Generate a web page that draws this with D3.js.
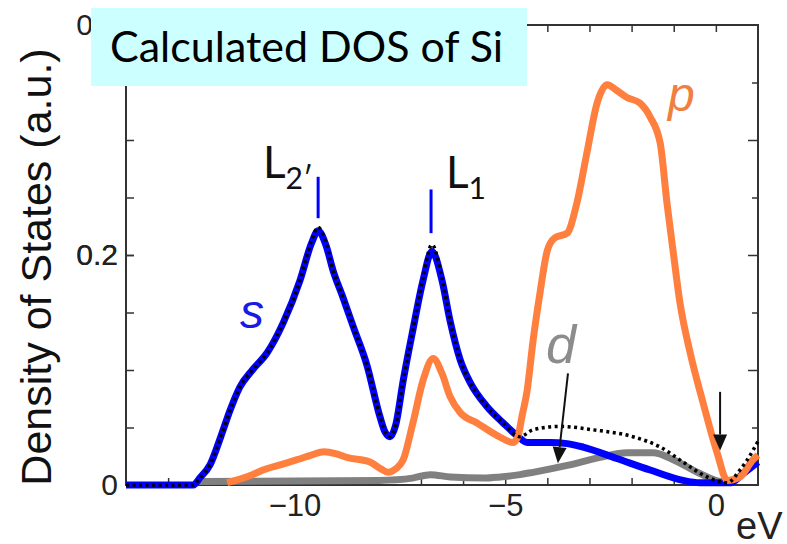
<!DOCTYPE html>
<html>
<head>
<meta charset="utf-8">
<script src="https://cdn.jsdelivr.net/npm/d3@7"></script>
<style>
  body { margin: 0; background: #fff; }
  svg { display: block; }
</style>
</head>
<body>
<svg id="chart" width="787" height="544"></svg>
<script>
"use strict";
// s-projected DOS (blue)
const sEnergy = [-14, -12.4, -12.25, -12.0, -11.75, -11.53, -11.3, -11.0, -10.65, -10.27, -9.87, -9.6, -9.44, -9.25, -9.09, -8.85, -8.6, -8.28, -7.97, -7.85, -7.73, -7.6, -7.42, -7.19, -6.95, -6.74, -6.5, -6.31, -6.07, -5.83, -5.43, -5.05, -4.72, -4.48, -3.94, -3.53, -3.15, -2.35, -1.56, -0.78, -0.38, 0.34, 0.65, 1.0];
const sDos = [0, 0, 0.006, 0.018, 0.042, 0.065, 0.085, 0.1, 0.115, 0.141, 0.178, 0.21, 0.221, 0.208, 0.187, 0.163, 0.137, 0.104, 0.059, 0.046, 0.042, 0.052, 0.091, 0.135, 0.178, 0.203, 0.178, 0.143, 0.109, 0.089, 0.068, 0.054, 0.043, 0.037, 0.037, 0.036, 0.033, 0.023, 0.013, 0.004, 0.002, 0.002, 0.01, 0.02];
// total DOS (black dotted)
const totEnergy = [-14, -12.4, -12.25, -12.0, -11.75, -11.53, -11.3, -11.0, -10.65, -10.27, -9.87, -9.6, -9.44, -9.25, -9.09, -8.85, -8.6, -8.28, -7.97, -7.85, -7.73, -7.6, -7.42, -7.19, -6.95, -6.74, -6.5, -6.31, -6.07, -5.83, -5.43, -5.05, -4.65, -4.34, -3.7, -2.92, -1.97, -1.32, -0.78, -0.21, 0.27, 0.57, 0.88, 1.0];
const totDos = [0, 0, 0.006, 0.018, 0.042, 0.065, 0.085, 0.1, 0.115, 0.141, 0.178, 0.212, 0.224, 0.21, 0.187, 0.163, 0.137, 0.104, 0.059, 0.046, 0.042, 0.052, 0.091, 0.135, 0.18, 0.209, 0.18, 0.143, 0.109, 0.089, 0.068, 0.054, 0.042, 0.048, 0.051, 0.048, 0.042, 0.033, 0.02, 0.007, 0.002, 0.013, 0.03, 0.038];
// p-projected DOS (orange)
const pEnergy = [-11.6, -11.0, -10.75, -10.3, -9.94, -9.6, -9.3, -9.0, -8.76, -8.21, -7.95, -7.78, -7.6, -7.42, -7.19, -6.95, -6.71, -6.5, -6.31, -6.07, -5.67, -5.19, -4.81, -4.7, -4.6, -4.48, -4.34, -4.17, -4.0, -3.82, -3.53, -3.3, -3.06, -2.82, -2.58, -2.35, -2.11, -1.8, -1.56, -1.32, -1.16, -1.01, -0.85, -0.61, -0.3, 0.03, 0.27, 0.57, 0.88, 1.0];
const pDos = [0.002, 0.009, 0.013, 0.018, 0.022, 0.026, 0.029, 0.027, 0.024, 0.02, 0.014, 0.011, 0.014, 0.022, 0.054, 0.091, 0.11, 0.097, 0.077, 0.063, 0.054, 0.043, 0.037, 0.042, 0.06, 0.082, 0.125, 0.168, 0.204, 0.215, 0.219, 0.245, 0.289, 0.332, 0.348, 0.343, 0.337, 0.332, 0.32, 0.297, 0.245, 0.202, 0.158, 0.115, 0.071, 0.028, 0.004, 0.007, 0.022, 0.026];
// d-projected DOS (gray)
const dEnergy = [-12.3, -8.0, -7.2, -6.78, -6.3, -5.5, -5.12, -4.65, -4.34, -3.53, -2.75, -2.11, -1.49, -1.01, -0.38, 0.1, 0.4];
const dDos = [0.003, 0.004, 0.006, 0.009, 0.007, 0.006, 0.007, 0.009, 0.011, 0.017, 0.024, 0.028, 0.028, 0.022, 0.01, 0.003, 0.002];

// axis ticks
const xTicks = d3.range(-13, 1, 1);
const xLabels = [-10, -5, 0];
const yTicks = [0.05, 0.1, 0.15, 0.2, 0.25, 0.3, 0.35];
const yLabels = [0, 0.2, 0.4];

// L-point markers
const markerNames = ["L", "L"];
const markerSubs = ["2\u2032", "1"];
const markerE = [-9.44, -6.76];
const markerTop = [0.268, 0.257];
const markerBottom = [0.232, 0.219];

const svg = d3.select("#chart");
const margin = {left: 126, right: 29, top: 25, bottom: 59};
const width = 787 - margin.left - margin.right;
const height = 544 - margin.top - margin.bottom;

const x = d3.scaleLinear().domain([-14, 1]).range([margin.left, margin.left + width]);
const y = d3.scaleLinear().domain([0, 0.4]).range([margin.top + height, margin.top]);

const axisColor = "#333";
const tickFont = "Liberation Sans, Arial, sans-serif";

// frame
svg.append("rect")
  .attr("x", x(-14)).attr("y", y(0.4))
  .attr("width", x(1) - x(-14)).attr("height", y(0) - y(0.4))
  .attr("fill", "none").attr("stroke", axisColor).attr("stroke-width", 2);

// bottom axis, inward ticks
const xAxis = svg.append("g")
  .attr("transform", `translate(0,${y(0)})`)
  .call(d3.axisBottom(x).tickValues(xTicks).tickSize(-7).tickPadding(9)
    .tickFormat(d => xLabels.includes(d) ? d3.format("d")(d) : ""));
xAxis.select(".domain").remove();
xAxis.selectAll(".tick line").attr("stroke", axisColor).attr("stroke-width", 1.5);
xAxis.selectAll(".tick text").attr("font-family", tickFont).attr("font-size", 31).attr("fill", "#222");

// top axis
const xTop = svg.append("g")
  .attr("transform", `translate(0,${y(0.4)})`)
  .call(d3.axisTop(x).tickValues(xTicks).tickSize(-7).tickFormat(""));
xTop.select(".domain").remove();
xTop.selectAll(".tick line").attr("stroke", axisColor).attr("stroke-width", 1.5);

// left axis
const yAxis = svg.append("g")
  .attr("transform", `translate(${x(-14)},0)`)
  .call(d3.axisLeft(y).tickValues(yTicks.concat(yLabels)).tickSize(-8).tickPadding(8)
    .tickFormat(d => yLabels.includes(d) ? String(d) : ""));
yAxis.select(".domain").remove();
yAxis.selectAll(".tick line").attr("stroke", axisColor).attr("stroke-width", 1.5);
yAxis.selectAll(".tick text").attr("font-family", tickFont).attr("font-size", 30).attr("fill", "#222");

// right axis
const yRight = svg.append("g")
  .attr("transform", `translate(${x(1)},0)`)
  .call(d3.axisRight(y).tickValues(yTicks).tickSize(-6).tickFormat(""));
yRight.select(".domain").remove();
yRight.selectAll(".tick line")
  .attr("x2", d => [0.1, 0.2, 0.3].includes(d) ? -10 : -6)
  .attr("stroke", axisColor).attr("stroke-width", 1.5);

// curves
const line = d3.line().x(d => x(d[0])).y(d => y(d[1])).curve(d3.curveMonotoneX);
const zip = (a, b) => a.map((v, i) => [v, b[i]]);

svg.append("path").datum(zip(dEnergy, dDos)).attr("d", line)
  .attr("fill", "none").attr("stroke", "#808080").attr("stroke-width", 7);
svg.append("path").datum(zip(sEnergy, sDos)).attr("d", line)
  .attr("fill", "none").attr("stroke", "#0000ff").attr("stroke-width", 7);
svg.append("path").datum(zip(pEnergy, pDos)).attr("d", line)
  .attr("fill", "none").attr("stroke", "#ff7f3f").attr("stroke-width", 7);
svg.append("path").datum(zip(totEnergy, totDos)).attr("d", line)
  .attr("fill", "none").attr("stroke", "#000").attr("stroke-width", 3.5)
  .attr("stroke-dasharray", "3,3.5");

// L markers
markerE.forEach((e, i) => {
  svg.append("line")
    .attr("x1", x(e)).attr("x2", x(e))
    .attr("y1", y(markerTop[i])).attr("y2", y(markerBottom[i]))
    .attr("stroke", "#0000ff").attr("stroke-width", 3);
});
const lText = svg.append("g").attr("font-family", "Lato, sans-serif").attr("fill", "#111");
[[263, 178], [446, 188]].forEach((p, i) => {
  const t = lText.append("text").attr("x", p[0]).attr("y", p[1]).attr("font-size", 44);
  t.append("tspan").text(markerNames[i]);
  t.append("tspan").attr("font-size", 30).attr("dy", 11).text(markerSubs[i]);
});

// orbital labels
const orb = svg.append("g").attr("font-family", "Liberation Sans, Arial, sans-serif").attr("font-style", "italic");
orb.append("text").attr("x", 240).attr("y", 328).attr("font-size", 48).attr("fill", "#1a1ae6").text("s");
orb.append("text").attr("x", 668).attr("y", 111).attr("font-size", 48).attr("fill", "#f08040").text("p");
orb.append("text").attr("x", 546).attr("y", 363).attr("font-size", 54).attr("fill", "#8c8c8c").text("d");

// arrows
const arrows = [
  {from: [-3.51, 0.097], to: [-3.75, 0.019]},
  {from: [0.1, 0.081], to: [0.1, 0.03]}
];
arrows.forEach(a => {
  const x1 = x(a.from[0]), y1 = y(a.from[1]), x2 = x(a.to[0]), y2 = y(a.to[1]);
  const ang = Math.atan2(y2 - y1, x2 - x1);
  const hl = 16, hw = 7;
  const bx = x2 - hl * Math.cos(ang), by = y2 - hl * Math.sin(ang);
  svg.append("line").attr("x1", x1).attr("y1", y1).attr("x2", bx).attr("y2", by)
    .attr("stroke", "#111").attr("stroke-width", 2);
  const px = -Math.sin(ang) * hw, py = Math.cos(ang) * hw;
  svg.append("path")
    .attr("d", `M${x2},${y2}L${bx + px},${by + py}L${bx - px},${by - py}Z`)
    .attr("fill", "#111");
});

// eV unit
svg.append("text").attr("x", 736).attr("y", 539)
  .attr("font-family", tickFont).attr("font-size", 38).attr("fill", "#222").text("eV");

// y axis title
svg.append("text")
  .attr("transform", `translate(51,267) rotate(-90)`)
  .attr("text-anchor", "middle")
  .attr("font-family", tickFont).attr("font-size", 43).attr("fill", "#111")
  .text("Density of States (a.u.)");

// title box (covers the top-left tick label, as in the original slide)
svg.append("rect").attr("x", 91).attr("y", 8).attr("width", 436).attr("height", 78).attr("fill", "#ccffff");
svg.append("text").attr("x", 110).attr("y", 62)
  .attr("font-family", "Lato, sans-serif").attr("font-size", 43).attr("fill", "#000")
  .text("Calculated DOS of Si");
</script>
</body>
</html>
